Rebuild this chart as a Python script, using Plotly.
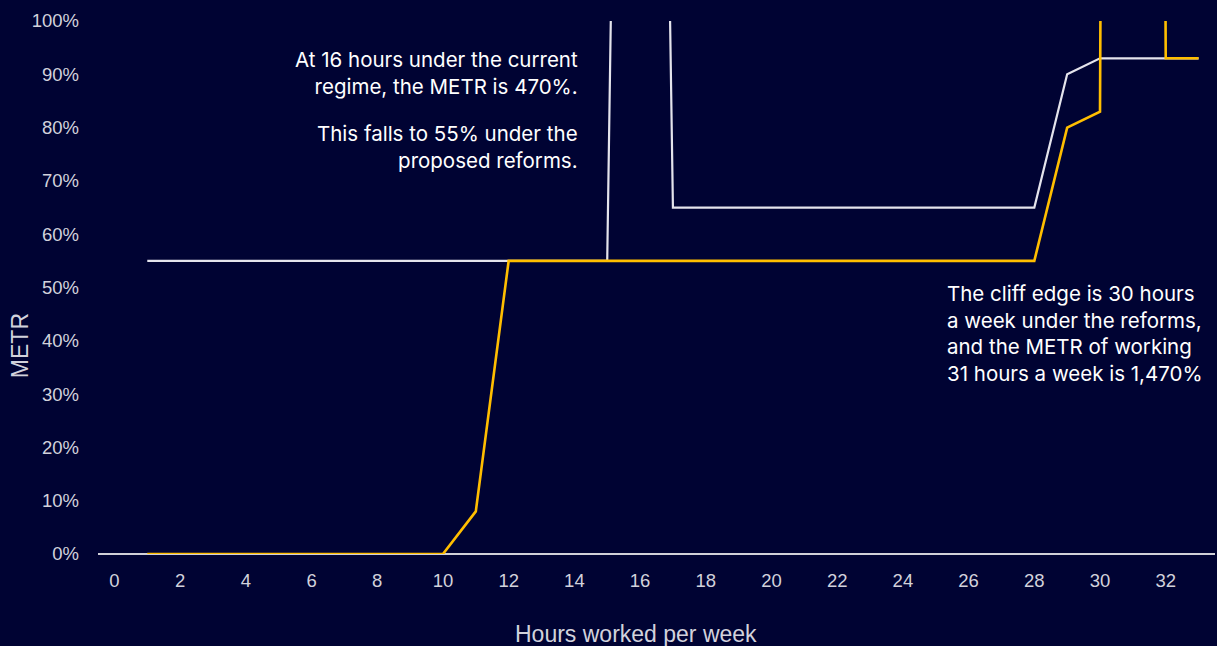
import plotly.graph_objects as go

# Hours worked per week
hours = list(range(1, 34))

# Marginal effective tax rate (share), current regime
metr_current = [0.55] * 14 + [0.55, 4.70] + [0.65] * 12 + [0.90, 0.93, 0.93, 0.93, 0.93]
# Marginal effective tax rate (share), proposed reforms
metr_reform = [0.0] * 10 + [0.08] + [0.55] * 17 + [0.80, 0.83, 14.70, 0.93, 0.93]

x_ticks = list(range(0, 34, 2))
y_ticks = [i / 10 for i in range(0, 11)]

BG = "#000333"
YELLOW = "#FFBE00"
LIGHT = "#E4E4EC"
TICK = "#D2D2DC"
NOTE_FONT = dict(family="Inter, sans-serif", size=20.5, color="#FFFFFF")
TITLE_FONT = dict(family="Liberation Sans, Arial, sans-serif", size=23, color=TICK)

fig = go.Figure()
fig.add_trace(go.Scatter(
    x=hours, y=metr_current, mode="lines", name="Current regime",
    line=dict(color=LIGHT, width=2.2), cliponaxis=True,
))
fig.add_trace(go.Scatter(
    x=hours, y=metr_reform, mode="lines", name="Proposed reforms",
    line=dict(color=YELLOW, width=2.6), cliponaxis=True,
))

fig.update_layout(
    width=1217, height=646,
    paper_bgcolor=BG, plot_bgcolor=BG,
    margin=dict(l=98, r=2, t=21, b=92),
    showlegend=False,
    font=dict(family="Liberation Sans, Arial, sans-serif", color=TICK),
    xaxis=dict(
        range=[-0.5, 33.5], tickvals=x_ticks, ticktext=[str(v) for v in x_ticks],
        showgrid=False, zeroline=False, showline=False, ticks="",
        ticklabelstandoff=13,
        tickfont=dict(size=18.5, color=TICK),
    ),
    yaxis=dict(
        range=[0, 1.0], tickvals=y_ticks, tickformat=".0%",
        showgrid=False, zeroline=True, zerolinecolor="#D0D0D8", zerolinewidth=2.4,
        showline=False, ticks="", ticklabelstandoff=18,
        tickfont=dict(size=18.5, color=TICK),
    ),
    annotations=[
        # axis titles
        dict(x=0.4817, y=-0.150, xref="paper", yref="paper", xanchor="center", yanchor="middle",
             showarrow=False, text="Hours worked per week", font=TITLE_FONT),
        dict(x=-0.0698, y=0.39, xref="paper", yref="paper", xanchor="center", yanchor="middle",
             showarrow=False, text="METR", textangle=-90, font=TITLE_FONT),
        # notes
        dict(x=14.18, y=0.9024, xref="x", yref="y", xanchor="right", yanchor="middle",
             align="right", showarrow=False,
             text="At 16 hours under the current<br>regime, the METR is 470%.",
             font=NOTE_FONT),
        dict(x=14.18, y=0.7645, xref="x", yref="y", xanchor="right", yanchor="middle",
             align="right", showarrow=False,
             text="This falls to 55% under the<br>proposed reforms.",
             font=NOTE_FONT),
        dict(x=25.27, y=0.4146, xref="x", yref="y", xanchor="left", yanchor="middle",
             align="left", showarrow=False,
             text="The cliff edge is 30 hours<br>a week under the reforms,<br>"
                  "and the METR of working<br>31 hours a week is 1,470%",
             font=NOTE_FONT),
    ],
)

fig.write_html("out.html")
